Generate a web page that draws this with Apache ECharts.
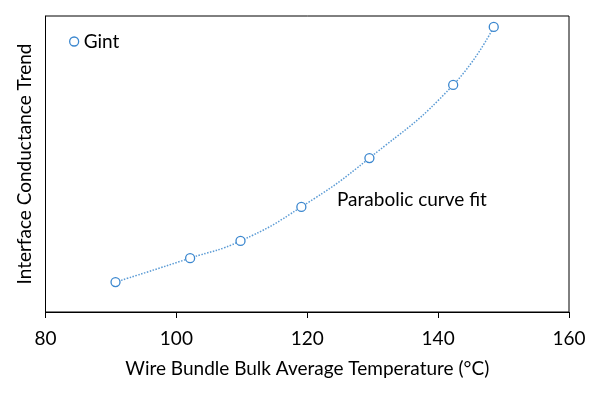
<!DOCTYPE html>
<html><head><meta charset="utf-8">
<script src="https://cdn.jsdelivr.net/npm/echarts@6/dist/echarts.min.js"></script>
<style>html,body{margin:0;padding:0;background:#fff}#c{width:605px;height:394px}</style>
</head><body><div id="c"></div>
<script>
const temps = [90.7, 102.1, 109.8, 119.1, 129.5, 142.3, 148.5];
const gint = [10.1, 18.2, 24.0, 35.5, 52.0, 76.7, 96.3];
const xTicks = [80, 100, 120, 140, 160];
const seriesName = 'Gint';
const fitLabel = 'Parabolic curve fit';
const xTitle = 'Wire Bundle Bulk Average Temperature (°C)';
const yTitle = 'Interface Conductance Trend';

const pts = temps.map((t, i) => [t, gint[i]]);
const FONT = 'Lato';
const FS = 19;
const chart = echarts.init(document.getElementById('c'), null, {renderer: 'canvas'});
chart.setOption({
  animation: false,
  textStyle: {fontFamily: FONT},
  grid: {left: 45.5, right: 36, top: 16, bottom: 82, show: true, borderColor: '#000', borderWidth: 1},
  legend: {
    left: 64, top: 27, itemWidth: 9, itemHeight: 9, itemGap: 6,
    data: [{name: seriesName, icon: 'circle', itemStyle: {color: '#fff', borderColor: '#3b87cf', borderWidth: 1.3}}],
    textStyle: {fontSize: FS, color: '#000', fontFamily: FONT}
  },
  xAxis: {
    type: 'value', min: xTicks[0], max: xTicks[xTicks.length - 1], interval: 20,
    name: xTitle, nameLocation: 'middle', nameGap: 47,
    nameTextStyle: {fontSize: FS, color: '#000', fontFamily: FONT},
    axisLine: {lineStyle: {color: '#000', width: 1}},
    axisTick: {show: true, inside: false, length: 6, lineStyle: {color: '#000'}},
    axisLabel: {fontSize: FS, color: '#000', margin: 17, fontFamily: FONT},
    splitLine: {show: false}
  },
  yAxis: {
    type: 'value', min: 0, max: 100,
    name: yTitle, nameLocation: 'middle', nameGap: 11,
    nameTextStyle: {fontSize: FS, color: '#000', fontFamily: FONT},
    axisLine: {show: true, lineStyle: {color: '#000'}},
    axisTick: {show: false}, axisLabel: {show: false}, splitLine: {show: false}
  },
  graphic: [{
    type: 'text', left: 337, top: 190,
    style: {text: fitLabel, fontSize: FS, fontFamily: FONT, fill: '#000'}
  }],
  series: [
    {
      name: 'fit', type: 'line', data: pts, smooth: 0.5, showSymbol: false, symbol: 'none',
      lineStyle: {color: '#5b9bd5', width: 1.5, type: [1.5, 1.5]}, z: 1
    },
    {
      name: seriesName, type: 'scatter', data: pts, symbol: 'circle', symbolSize: 9,
      itemStyle: {color: '#fff', borderColor: '#3b87cf', borderWidth: 1.3, opacity: 1}, z: 3
    }
  ]
});
</script></body></html>
